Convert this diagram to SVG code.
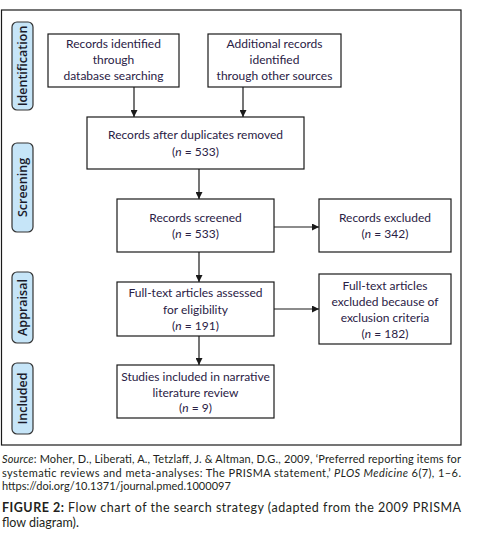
<svg xmlns="http://www.w3.org/2000/svg" width="477" height="540" viewBox="0 0 477 540">
<defs>
<style>
.bx{fill:#fff;stroke:#1a1a1a;stroke-width:1.2}
.lb{fill:#c6e5f8;stroke:#333;stroke-width:1.2}
.t{font-family:Lato,"Liberation Sans",sans-serif;font-size:12px;fill:#2a2145;text-anchor:middle}
.lt{font-family:"Open Sans","Liberation Sans",sans-serif;font-size:12.5px;font-weight:600;fill:#1a1a2a;text-anchor:middle}
.c{font-family:Lato,"Liberation Sans",sans-serif;font-size:11px;fill:#231f20}
.f{font-family:Lato,"Liberation Sans",sans-serif;font-size:12.5px;fill:#231f20}
.ln{stroke:#1a1a1a;stroke-width:1.2;fill:none}
</style>
<marker id="ah" viewBox="0 0 10 10" refX="10" refY="5" markerWidth="7" markerHeight="7" markerUnits="userSpaceOnUse" orient="auto">
<path d="M0,0L10,5L0,10z" fill="#1a1a1a"/>
</marker>
</defs>
<rect x="0" y="0" width="477" height="540" fill="#fff"/>
<rect x="1.5" y="10" width="459.5" height="435" fill="none" stroke="#1a1a1a" stroke-width="1.2"/>
<g id="label-identification"><rect class="lb" x="12" y="22" width="21" height="88" rx="5"/><text class="lt" transform="translate(27,66) rotate(-90)">Identification</text></g>
<g id="label-screening"><rect class="lb" x="12" y="143" width="21" height="89" rx="5"/><text class="lt" transform="translate(27,187.5) rotate(-90)">Screening</text></g>
<g id="label-appraisal"><rect class="lb" x="12" y="272" width="21" height="71" rx="5"/><text class="lt" transform="translate(27,307.5) rotate(-90)">Appraisal</text></g>
<g id="label-included"><rect class="lb" x="12" y="363" width="21" height="71" rx="5"/><text class="lt" transform="translate(27,398.5) rotate(-90)">Included</text></g>
<g id="connectors">
<line class="ln" x1="134" y1="87" x2="134" y2="117" marker-end="url(#ah)"/>
<line class="ln" x1="243" y1="87" x2="243" y2="117" marker-end="url(#ah)"/>
<line class="ln" x1="199" y1="169" x2="199" y2="199" marker-end="url(#ah)"/>
<line class="ln" x1="274" y1="227" x2="319" y2="227" marker-end="url(#ah)"/>
<line class="ln" x1="199" y1="252" x2="199" y2="282" marker-end="url(#ah)"/>
<line class="ln" x1="274" y1="309" x2="319" y2="309" marker-end="url(#ah)"/>
<line class="ln" x1="199" y1="336" x2="199" y2="365" marker-end="url(#ah)"/>
</g>
<g id="n1"><rect class="bx" x="48" y="34" width="131" height="53"/><text class="t" x="113.5" y="48">Records identified</text><text class="t" x="113.5" y="64">through</text><text class="t" x="113.5" y="80">database searching</text></g>
<g id="n2"><rect class="bx" x="208" y="34" width="133" height="53"/><text class="t" x="274.5" y="48">Additional records</text><text class="t" x="274.5" y="64">identified</text><text class="t" x="274.5" y="80">through other sources</text></g>
<g id="n3"><rect class="bx" x="87" y="117" width="217" height="52"/><text class="t" x="195.5" y="139">Records after duplicates removed</text><text class="t" x="195.5" y="156">(<tspan font-style="italic">n</tspan> = 533)</text></g>
<g id="n4"><rect class="bx" x="117" y="199" width="157" height="53"/><text class="t" x="195.5" y="222">Records screened</text><text class="t" x="195.5" y="238">(<tspan font-style="italic">n</tspan> = 533)</text></g>
<g id="n5"><rect class="bx" x="319" y="199" width="132" height="53"/><text class="t" x="385" y="222">Records excluded</text><text class="t" x="385" y="238">(<tspan font-style="italic">n</tspan> = 342)</text></g>
<g id="n6"><rect class="bx" x="117" y="282" width="157" height="54"/><text class="t" x="195.5" y="297">Full-text articles assessed</text><text class="t" x="195.5" y="314">for eligibility</text><text class="t" x="195.5" y="330">(<tspan font-style="italic">n</tspan> = 191)</text></g>
<g id="n7"><rect class="bx" x="319" y="274" width="132" height="70"/><text class="t" x="385" y="290">Full-text articles</text><text class="t" x="385" y="306">excluded because of</text><text class="t" x="385" y="322">exclusion criteria</text><text class="t" x="385" y="338">(<tspan font-style="italic">n</tspan> = 182)</text></g>
<g id="n8"><rect class="bx" x="117" y="365" width="157" height="53"/><text class="t" x="195.5" y="381">Studies included in narrative</text><text class="t" x="195.5" y="397">literature review</text><text class="t" x="195.5" y="412">(<tspan font-style="italic">n</tspan> = 9)</text></g>
<text class="c" x="2" y="463" textLength="459" lengthAdjust="spacing"><tspan font-style="italic">Source</tspan>: Moher, D., Liberati, A., Tetzlaff, J. &amp; Altman, D.G., 2009, ‘Preferred reporting items for</text>
<text class="c" x="2" y="477" textLength="459" lengthAdjust="spacing">systematic reviews and meta-analyses: The PRISMA statement,’ <tspan font-style="italic">PLOS Medicine</tspan> 6(7), 1–6.</text>
<text class="c" x="2" y="490">https://doi.org/10.1371/journal.pmed.1000097</text>
<text class="f" x="2" y="512" textLength="459" lengthAdjust="spacing"><tspan font-weight="bold">FIGURE 2:</tspan> Flow chart of the search strategy (adapted from the 2009 PRISMA</text>
<text class="f" x="2" y="527">flow diagram).</text>
</svg>
